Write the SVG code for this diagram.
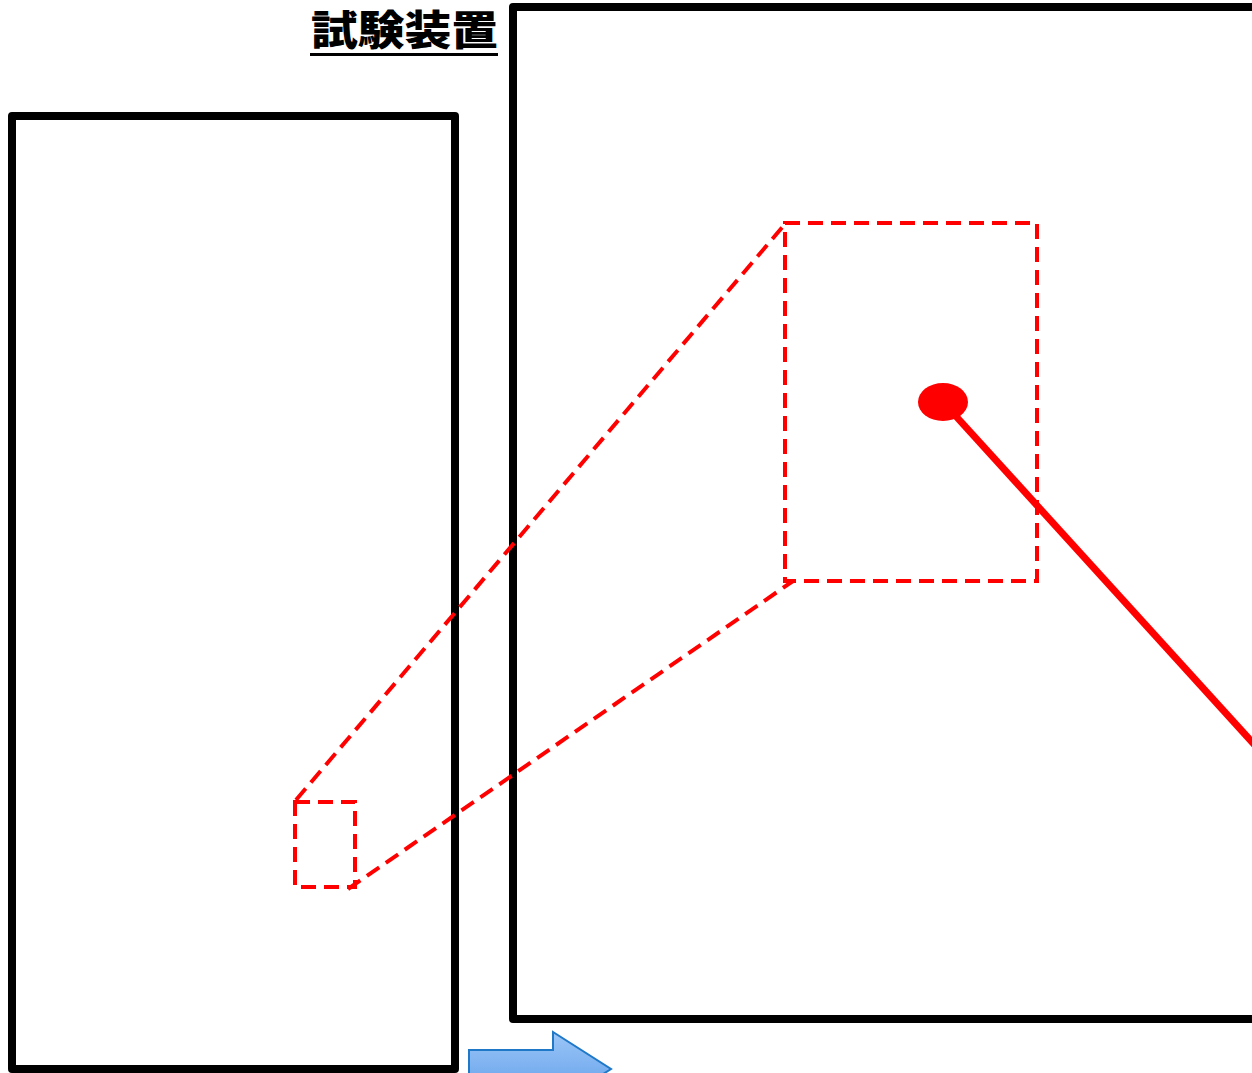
<svg xmlns="http://www.w3.org/2000/svg" width="1252" height="1073" viewBox="0 0 1252 1073">
<defs>
<style>
.frame{fill:none;stroke:#000;stroke-width:8;stroke-linejoin:round}
.dash{fill:none;stroke:#ff0000;stroke-width:4;stroke-dasharray:15,8}
.title{font-family:"Noto Sans CJK JP",sans-serif;font-weight:900;font-size:41px;fill:#000}
</style>
<linearGradient id="ag" x1="0" y1="0" x2="0" y2="1">
<stop offset="0" stop-color="#9cc6f7"/>
<stop offset="1" stop-color="#5a9ae8"/>
</linearGradient>
</defs>
<rect width="1252" height="1073" fill="#fff"/>
<g id="title">
<text class="title" x="311" y="45" textLength="187" lengthAdjust="spacingAndGlyphs">試験装置</text>
<rect x="310" y="53" width="188" height="3" fill="#000"/>
</g>
<g id="device-left">
<rect class="frame" x="12" y="116" width="443" height="953"/>
</g>
<g id="device-zoom">
<rect class="frame" x="513" y="7" width="760" height="1012"/>
</g>
<g id="small-region">
<rect class="dash" x="295" y="802" width="60" height="85"/>
</g>
<g id="zoom-region">
<rect class="dash" x="785" y="223" width="252" height="358"/>
</g>
<g id="connectors">
<line class="dash" x1="296" y1="800" x2="785" y2="224"/>
<line class="dash" x1="348" y1="889" x2="793" y2="581"/>
</g>
<g id="probe">
<line x1="943" y1="402" x2="1262" y2="753" stroke="#ff0000" stroke-width="7"/>
<ellipse cx="943" cy="402" rx="25" ry="19" fill="#ff0000"/>
</g>
<g id="arrow">
<path d="M469,1050 L553,1050 L553,1032 L611,1069 L553,1106 L553,1088 L469,1088 Z" fill="url(#ag)" stroke="#1f78c8" stroke-width="2"/>
</g>
</svg>
